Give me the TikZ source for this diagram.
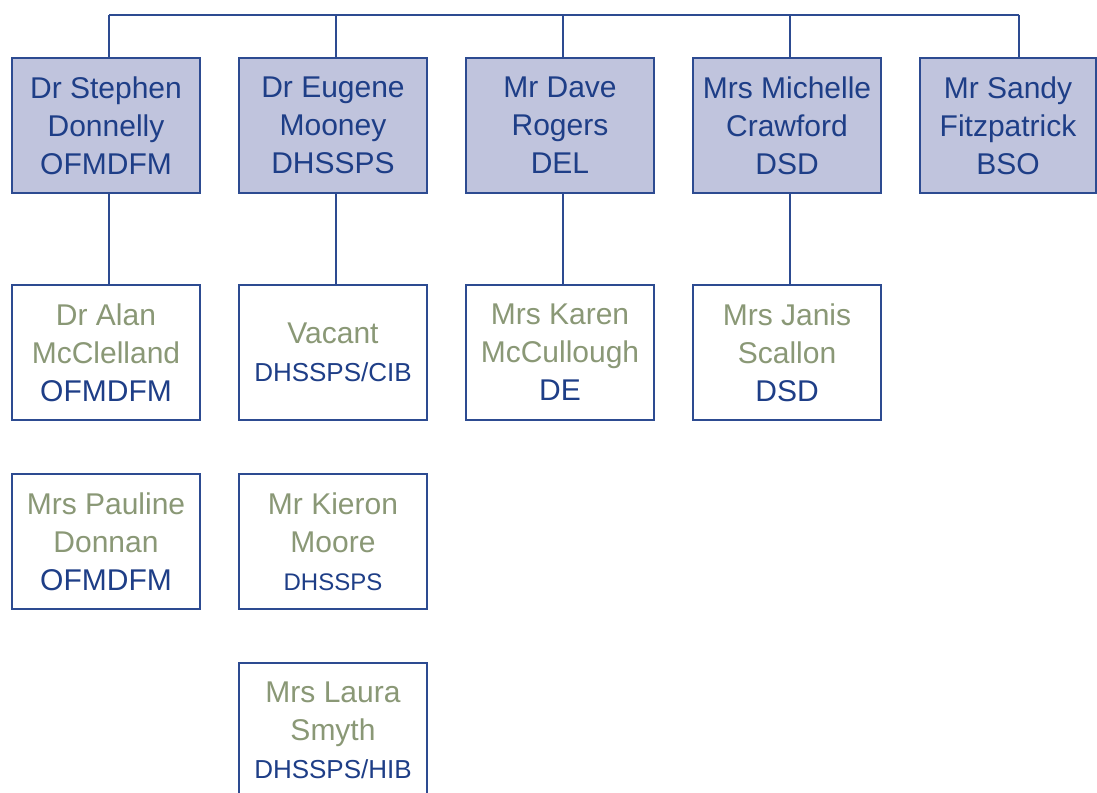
\documentclass[tikz,border=0pt]{standalone}
\usepackage{fontspec}
\setmainfont{Liberation Sans}
\definecolor{kastenblau}{RGB}{192,196,221}
\definecolor{randblau}{RGB}{45,75,145}
\definecolor{textblau}{RGB}{30,62,135}
\definecolor{namegruen}{RGB}{138,152,118}
\newcommand{\person}[1]{\textcolor{namegruen}{#1}}
\newcommand{\klein}[2]{{\fontsize{#1}{#1}\selectfont #2}}
\begin{document}
\begin{tikzpicture}[x=1pt, y=-1pt,
	head/.style={draw=randblau, line width=1.2pt, fill=kastenblau, text=textblau,
		minimum width=188pt, minimum height=135pt, inner sep=0pt, align=center,
		font=\fontsize{30}{38}\selectfont},
	staff/.style={head, fill=white},
	link/.style={draw=randblau, line width=1.2pt}]
	\useasboundingbox (0,0) rectangle (1097,792);

	% Vorsitz / Abteilungen oben
	\node[head] (t1) at (106, 125.5) {Dr Stephen\\Donnelly\\OFMDFM};
	\node[head] (t2) at (333, 125.5) {Dr Eugene\\Mooney\\DHSSPS};
	\node[head] (t3) at (560, 125.5) {Mr Dave\\Rogers\\DEL};
	\node[head] (t4) at (787, 125.5) {Mrs Michelle\\Crawford\\DSD};
	\node[head, minimum width=176pt] (t5) at (1008, 125.5) {Mr Sandy\\Fitzpatrick\\BSO};

	% Stellvertreter
	\node[staff] (s1) at (106, 352.5) {\person{Dr Alan}\\\person{McClelland}\\OFMDFM};
	\node[staff] (s2) at (333, 352.5) {\person{Vacant}\\\klein{26}{DHSSPS/CIB}};
	\node[staff] (s3) at (560, 352.5) {\person{Mrs Karen}\\\person{McCullough}\\DE};
	\node[staff] (s4) at (787, 352.5) {\person{Mrs Janis}\\\person{Scallon}\\DSD};

	% weitere Mitglieder
	\node[staff] (u1) at (106, 541.5) {\person{Mrs Pauline}\\\person{Donnan}\\OFMDFM};
	\node[staff] (u2) at (333, 541.5) {\person{Mr Kieron}\\\person{Moore}\\\klein{24}{DHSSPS}};
	\node[staff] (v2) at (333, 730.5) {\person{Mrs Laura}\\\person{Smyth}\\\klein{26}{DHSSPS/HIB}};

	% Verbindungen
	\coordinate (bar) at (0, 15);
	\foreach \i in {1,...,4}
		\coordinate (k\i) at ([xshift=3pt]t\i.north);
	\coordinate (k5) at ([xshift=11pt]t5.north);
	\foreach \i in {1,...,5}
		\draw[link] (k\i) -- (k\i |- bar);
	\draw[link] (k1 |- bar) -- (k5 |- bar);
	\foreach \i in {1,...,4}
		\draw[link] ([xshift=3pt]t\i.south) -- ([xshift=3pt]s\i.north);
\end{tikzpicture}
\end{document}
